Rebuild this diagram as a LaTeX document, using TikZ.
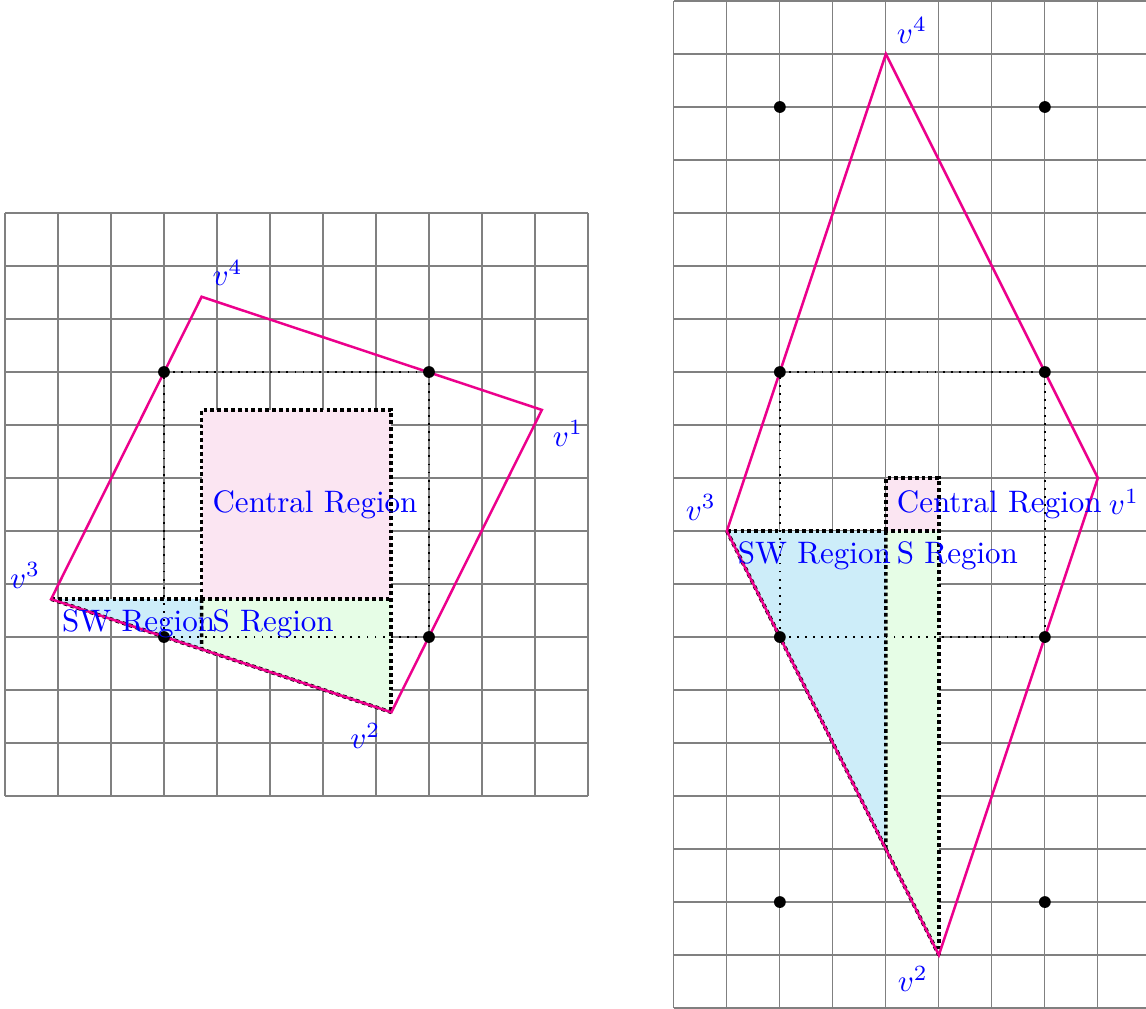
\documentclass[tikz,border=0pt]{standalone}
\usetikzlibrary{calc}
\definecolor{edgepink}{RGB}{236,0,140}
\definecolor{centralfill}{RGB}{251,229,242}
\definecolor{swfill}{RGB}{205,237,249}
\definecolor{sfill}{RGB}{230,253,230}
\begin{document}
\begin{tikzpicture}[x=0.6cm,y=0.6cm,
  gridline/.style={black!50, line width=0.4pt},
  quad/.style={edgepink, line width=0.8pt, line join=miter},
  region/.style={black, line width=1.2pt, densely dotted},
  hull/.style={black, line width=0.6pt, dotted},
  pt/.style={circle, fill=black, inner sep=0pt, minimum size=3.8pt},
  lab/.style={text=blue},
  vlab/.style={text=blue}]
\useasboundingbox (-5.594,-9.50) rectangle (16.028,9.519);

% ---------------- left panel ----------------
\draw[gridline, step=1, shift={(-5.5,-5.5)}] (0,0) grid (11,11);
\coordinate (Lv1) at (4.63,1.785);
\coordinate (Lv2) at (1.79,-3.92);
\coordinate (Lv3) at (-4.63,-1.785);
\coordinate (Lv4) at (-1.79,3.92);
\coordinate (La) at (Lv4 |- Lv3);
\coordinate (Lb) at (Lv2 |- Lv3);
\coordinate (Lc) at (Lv2 |- Lv1);
\coordinate (Ld) at (Lv4 |- Lv1);
\coordinate (Le) at (intersection of Lv3--Lv2 and La--Ld);
\fill[centralfill] (La) rectangle (Lc);
\fill[swfill] (Lv3) -- (La) -- (Le) -- cycle;
\fill[sfill] (La) -- (Lb) -- (Lv2) -- (Le) -- cycle;
\draw[region] (Lv3) -- (La) -- (Lb);
\draw[region] (La) -- (Ld) -- (Lc) -- (Lb) -- (Lv2);
\draw[region] (La) -- (Le);
\draw[region] (Lv3) -- (Lv2);
\draw[hull] (-2.5,-2.5) rectangle (2.5,2.5);
\draw[quad] (Lv1) -- (Lv2) -- (Lv3) -- (Lv4) -- cycle;
\node[pt] (Lp1) at (-2.5,2.5) {};
\node[pt] (Lp2) at (2.5,2.5) {};
\node[pt] (Lp3) at (-2.5,-2.5) {};
\node[pt] (Lp4) at (2.5,-2.5) {};
\node[lab, anchor=west] (Lcl) at ($(La)!0.5!(Ld)$) {Central Region};
\node[lab, anchor=north west] (Lswl) at (Lv3) {SW Region};
\node[lab, anchor=north west] (Lsl) at (La) {S Region};
\node[vlab, below right] (Lt1) at (Lv1) {$v^1$};
\node[vlab, below left] (Lt2) at (Lv2) {$v^2$};
\node[vlab, above left] (Lt3) at (Lv3) {$v^3$};
\node[vlab, above right] (Lt4) at (Lv4) {$v^4$};

% ---------------- right panel ----------------
\begin{scope}[shift={(11.62,0)}]
\draw[gridline, step=1, shift={(-4.5,-9.5)}] (0,0) grid (9,19);
\coordinate (Rv1) at (3.5,0.5);
\coordinate (Rv2) at (0.5,-8.5);
\coordinate (Rv3) at (-3.5,-0.5);
\coordinate (Rv4) at (-0.5,8.5);
\coordinate (Ra) at (Rv4 |- Rv3);
\coordinate (Rb) at (Rv2 |- Rv3);
\coordinate (Rc) at (Rv2 |- Rv1);
\coordinate (Rd) at (Rv4 |- Rv1);
\coordinate (Re) at (intersection of Rv3--Rv2 and Ra--Rd);
\fill[centralfill] (Ra) rectangle (Rc);
\fill[swfill] (Rv3) -- (Ra) -- (Re) -- cycle;
\fill[sfill] (Ra) -- (Rb) -- (Rv2) -- (Re) -- cycle;
\draw[region] (Rv3) -- (Ra) -- (Rb);
\draw[region] (Ra) -- (Rd) -- (Rc) -- (Rb) -- (Rv2);
\draw[region] (Ra) -- (Re);
\draw[region] (Rv3) -- (Rv2);
\draw[hull] (-2.5,-2.5) rectangle (2.5,2.5);
\draw[quad] (Rv1) -- (Rv2) -- (Rv3) -- (Rv4) -- cycle;
\node[pt] (Rp1) at (-2.5,7.5) {};
\node[pt] (Rp2) at (2.5,7.5) {};
\node[pt] (Rp3) at (-2.5,2.5) {};
\node[pt] (Rp4) at (2.5,2.5) {};
\node[pt] (Rp5) at (-2.5,-2.5) {};
\node[pt] (Rp6) at (2.5,-2.5) {};
\node[pt] (Rp7) at (-2.5,-7.5) {};
\node[pt] (Rp8) at (2.5,-7.5) {};
\node[lab, anchor=west] (Rcl) at ($(Ra)!0.5!(Rd)$) {Central Region};
\node[lab, anchor=north west] (Rswl) at (Rv3) {SW Region};
\node[lab, anchor=north west] (Rsl) at (Ra) {S Region};
\node[vlab, below right] (Rt1) at (Rv1) {$v^1$};
\node[vlab, below left] (Rt2) at (Rv2) {$v^2$};
\node[vlab, above left] (Rt3) at (Rv3) {$v^3$};
\node[vlab, above right] (Rt4) at (Rv4) {$v^4$};
\end{scope}
\end{tikzpicture}
\end{document}
